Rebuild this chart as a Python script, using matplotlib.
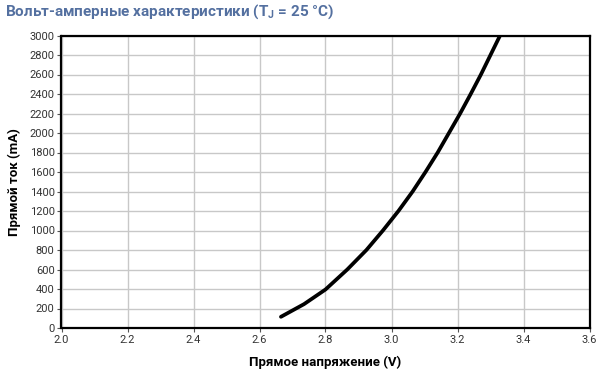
import matplotlib
matplotlib.use("Agg")
import matplotlib.pyplot as plt

# forward voltage / current
voltage = [2.665, 2.735, 2.80, 2.866, 2.924, 2.974, 3.021, 3.064,
           3.103, 3.140, 3.174, 3.208, 3.240, 3.271, 3.300, 3.329]
current = [115, 245, 395, 600, 800, 1000, 1200, 1400,
           1600, 1800, 2000, 2200, 2400, 2600, 2800, 3000]

x_ticks = [2.0, 2.2, 2.4, 2.6, 2.8, 3.0, 3.2, 3.4, 3.6]
y_ticks = list(range(0, 3001, 200))

plt.rcParams['font.family'] = ['Roboto', 'DejaVu Sans']

fig = plt.figure(figsize=(6, 3.75), dpi=100)
ax = fig.add_axes([61.5 / 600, 1 - 328 / 375, (589.5 - 61.5) / 600, (328 - 35.5) / 375])

ax.plot(voltage, current, color='black', lw=2.7, solid_capstyle='round',
        solid_joinstyle='round')

ax.set_xlim(2.0, 3.6)
ax.set_ylim(0, 3000)
ax.set_xticks(x_ticks)
ax.set_yticks(y_ticks)
ax.set_xticklabels([f"{v:.1f}" for v in x_ticks])
ax.grid(True, color='#c8c8c8', lw=1.0)
ax.set_axisbelow(True)
for s in ax.spines.values():
    s.set_linewidth(1.6)
    s.set_color('black')
ax.tick_params(axis='both', labelsize=8, colors='#333333', length=3, width=0.8, pad=2)
ax.tick_params(axis='both', color='#555555')

ax.set_xlabel("Прямое напряжение (V)", fontsize=9.5, fontweight='bold', labelpad=8)
ax.set_ylabel("Прямой ток (mA)", fontsize=9.5, fontweight='bold', labelpad=6)

fig.text(5 / 600, 1 - 12 / 375, "Вольт-амперные характеристики (T$_\\mathregular{J}$ = 25 °C)",
         fontsize=11, fontweight='bold', color='#5470a0', va='center', ha='left')

fig.savefig("out.png", dpi=100)
